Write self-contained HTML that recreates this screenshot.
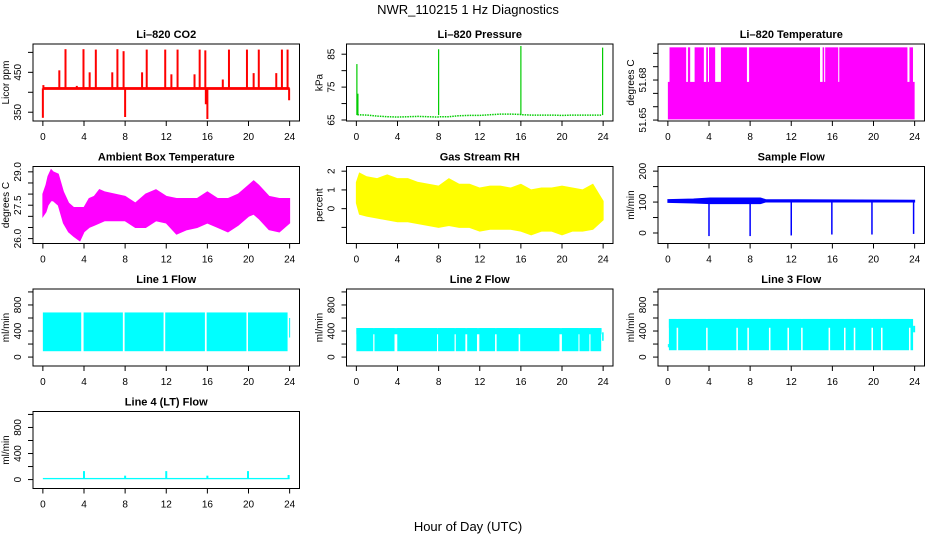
<!DOCTYPE html>
<html><head><meta charset="utf-8"><style>
html,body{margin:0;padding:0;background:#fff;}
svg{display:block;font-family:"Liberation Sans",Arial,sans-serif;}
</style></head><body>
<svg id="c" width="936" height="540" viewBox="0 0 936 540" xmlns="http://www.w3.org/2000/svg">
<rect width="936" height="540" fill="#fff"/>
<text x="468" y="14" font-size="13" text-anchor="middle">NWR_110215  1 Hz Diagnostics</text>
<text x="468" y="531" font-size="13" text-anchor="middle">Hour of Day (UTC)</text>
</svg>
<script>
// ---------- data ----------
var xTicks = [0,4,8,12,16,20,24];
// CO2
var co2BandLo = 406, co2BandHi = 413;
var co2SpikeHours = [0.0,0.05,1.6,2.2,3.3,3.95,4.55,5.15,6.75,7.25,7.85,8.0,9.65,10.1,11.9,12.5,13.1,14.75,15.25,15.8,15.85,16.0,17.5,18.1,19.85,20.5,21.0,22.7,23.25,23.8,23.95];
var co2SpikeVals  = [336,418,455,508,416,508,450,507,450,508,503,338,450,507,507,445,507,445,507,505,370,333,432,507,507,448,507,448,507,507,380];
// Pressure
var presHours = [0.1,1,2,3,4,5,6,7,7.9,8.1,9,10,11,12,13,14,15,15.9,16.1,17,18,19,20,21,22,23,23.9];
var presVals  = [66.6,66.5,66.2,66.0,65.9,66.0,66.1,66.0,65.9,66.0,66.0,66.3,66.4,66.4,66.6,66.8,66.8,66.7,66.6,66.5,66.5,66.5,66.4,66.5,66.5,66.5,66.5];
var presSpikeHours = [0.05,0.15,8.0,16.0,23.95];
var presSpikeVals  = [82,73,86.5,87.5,87];
// Li-820 temperature
var tempLevelLow = 51.6505, tempLevelMid = 51.6786, tempLevelHigh = 51.7045;
var tempUpperStart = [0.16,1.95,2.6,3.73,4.0,5.16,7.9,15.05,15.3,16.67,23.5];
var tempUpperEnd   = [1.78,2.17,3.5,3.9,4.6,7.69,14.8,15.2,16.57,23.3,23.84];
// Ambient box temperature
var ambHours = [0,0.3,0.5,0.8,1,1.5,2,2.5,3,3.6,4,4.5,5,5.5,6,7,8,9,10,11,12,13,14,15,16,17,18,19,20,20.5,21,22,23,24];
var ambHi = [28.0,28.4,28.8,29.1,29.0,28.9,28.1,27.6,27.4,27.4,27.4,27.8,27.9,28.2,28.1,28.0,27.9,27.6,28.0,28.2,27.9,27.8,27.8,27.8,28.1,27.8,27.8,28.0,28.4,28.6,28.4,27.9,27.8,27.8];
var ambLo = [27.0,27.2,27.5,27.7,27.7,27.5,26.7,26.3,26.1,25.9,26.3,26.5,26.6,26.7,26.8,26.8,26.8,26.5,26.5,26.8,26.7,26.2,26.4,26.5,26.7,26.5,26.3,26.6,27.0,27.1,26.9,26.4,26.3,26.7];
// Gas stream RH
var rhHours = [0,0.3,1,2,3,4,5,6,7,8,9,10,11,12,13,14,15,16,17,18,19,20,21,22,23,24];
var rhHi = [1.4,1.9,1.7,1.6,1.8,1.6,1.6,1.4,1.3,1.2,1.6,1.3,1.3,1.1,1.2,1.2,1.1,1.3,1.0,1.1,1.1,1.2,1.1,1.0,1.3,0.4];
var rhLo = [0.3,-0.3,-0.4,-0.5,-0.6,-0.7,-0.7,-0.8,-0.9,-1.0,-0.9,-1.0,-1.0,-1.2,-1.1,-1.1,-1.1,-1.2,-1.4,-1.2,-1.2,-1.4,-1.2,-1.2,-1.1,-0.6];
// Sample flow
var sfHours = [0,2.5,4.1,9,9.5,24];
var sfHi = [108,110,113,113,108,106];
var sfLo = [99,97,95,95,100,100];
var sfDipHours = [4.0,8.0,12.0,15.95,19.85,23.9];
var sfDipVals  = [-10,-10,-8,-5,-5,-3];
// Line 1 flow
var l1Start = [0,3.96,7.95,11.9,15.93,19.95];
var l1End   = [3.73,7.78,11.74,15.76,19.8,23.8];
var l1Lo = 90, l1Hi = 685;
// Line 2 flow
var l2Start = [0,1.76,3.98,7.95,9.67,10.78,11.96,13.64,15.93,19.99,21.7,22.77];
var l2End   = [1.64,3.71,7.84,9.55,10.6,11.73,13.49,15.78,19.75,21.6,22.66,23.81];
var l2Lo = 90, l2GapLo = 350, l2Hi = 445;
// Line 3 flow
var l3Start = [0.1,1.0,3.87,6.81,7.88,9.98,11.78,13.11,15.78,17.28,18.23,19.95,20.88];
var l3End   = [0.85,3.72,6.66,7.73,9.83,11.63,12.96,15.63,17.13,18.08,19.8,20.73,23.45];
var l3Lo = 105, l3GapLo = 450, l3Hi = 585;
// Line 4 flow
var l4Lo = 5, l4Hi = 25;
var l4SpikeHours = [4.0,8.0,12.0,16.0,19.95,23.9];
var l4SpikeVals  = [130,60,130,60,130,70];

// ---------- layout ----------
var NS = 'http://www.w3.org/2000/svg';
var svg = document.getElementById('c');
var colL = [33,346.5,658], W = 266.5;
var rowT = [44,166.5,289,411.5], H = 77;

function mk(tag, attrs, parent){
  var e = document.createElementNS(NS, tag);
  for (var k in attrs) e.setAttribute(k, attrs[k]);
  (parent||svg).appendChild(e);
  return e;
}

function makePanel(col,row,title,ylab,ymin,ymax,yticks,ylabels,name){
  var L = colL[col], T = rowT[row];
  var g = mk('g',{});
  
  
  var sx = function(h){ return L + (h+0.96)/25.92*W; };
  var sy = function(v){ return T + (ymax-v)/(ymax-ymin)*H; };
  var clip = mk('clipPath',{id:'clip-'+name},g);
  mk('rect',{x:L,y:T,width:W,height:H},clip);
  var plot = mk('g',{'clip-path':'url(#clip-'+name+')'},g);
  
  
  var box = mk('rect',{x:L,y:T,width:W,height:H,fill:'none',stroke:'#000','stroke-width':1},g);
  
  
  var t = mk('text',{x:L+W/2,y:T-6,'font-size':11,'font-weight':'bold','text-anchor':'middle'},g);
  t.textContent = title;
  
  
  var xa = mk('g',{},g);
  
  
  xTicks.forEach(function(h){
    mk('line',{x1:sx(h),x2:sx(h),y1:T+H,y2:T+H+5,stroke:'#000'},xa);
    var tl = mk('text',{x:sx(h),y:T+H+19,'font-size':10,'text-anchor':'middle'},xa);
    tl.textContent = String(h);
    
    
  });
  var ya = mk('g',{},g);
  
  
  yticks.forEach(function(v){
    mk('line',{x1:L-5,x2:L,y1:sy(v),y2:sy(v),stroke:'#000'},ya);
  });
  ylabels.forEach(function(v){
    var yy = sy(parseFloat(v)), xx = L-12;
    var tl = mk('text',{x:xx,y:yy,'font-size':10,'text-anchor':'middle',transform:'rotate(-90 '+xx+' '+yy+')'},ya);
    tl.textContent = v;
    
    
  });
  var yt = T+H/2, xt = L-24;
  var at = mk('text',{x:xt,y:yt,'font-size':10,'text-anchor':'middle',transform:'rotate(-90 '+xt+' '+yt+')'},g);
  at.textContent = ylab;
  
  
  return {g:plot,sx:sx,sy:sy};
}
function rect(p,h0,h1,v0,v1,color,nm){
  var r = mk('rect',{x:p.sx(h0),y:p.sy(v1),width:Math.max(0.8,p.sx(h1)-p.sx(h0)),height:Math.max(1,p.sy(v0)-p.sy(v1)),fill:color},p.g);
  
  
  return r;
}
function vline(p,h,v0,v1,color,w,nm){
  var l = mk('line',{x1:p.sx(h),x2:p.sx(h),y1:p.sy(v0),y2:p.sy(v1),stroke:color,'stroke-width':w},p.g);
  
  
}
function envelope(p,hours,hi,lo,color,nm){
  var pts = hours.map(function(h,i){return p.sx(h)+','+p.sy(hi[i]);});
  for (var i=hours.length-1;i>=0;i--) pts.push(p.sx(hours[i])+','+p.sy(lo[i]));
  var pg = mk('polygon',{points:pts.join(' '),fill:color,stroke:color,'stroke-width':1},p.g);
  
  
}

// CO2
var p = makePanel(0,0,'Li\u2013820 CO2','Licor ppm',328,521,[350,400,450,500],['350','450'],'co2');
rect(p,0,24,co2BandLo,co2BandHi,'#ff0000','co2-baseline');
co2SpikeHours.forEach(function(h,i){ vline(p,h,410,co2SpikeVals[i],'#ff0000',2,'co2-spike'); });

// Pressure
p = makePanel(1,0,'Li\u2013820 Pressure','kPa',64.7,88.1,[65,70,75,80,85],['65','75','85'],'pressure');
var pl = mk('polyline',{points:presHours.map(function(h,i){return p.sx(h)+','+p.sy(presVals[i]);}).join(' '),fill:'none',stroke:'#00cc00','stroke-width':1.5,'stroke-dasharray':'1.5 1'},p.g);


presSpikeHours.forEach(function(h,i){ vline(p,h,66.5,presSpikeVals[i],'#00cc00',1.2,'pressure-spike'); });

// Li-820 temperature
p = makePanel(2,0,'Li\u2013820 Temperature','degrees C',51.6493,51.707,[51.65,51.66,51.67,51.68,51.69,51.70],['51.65','51.68'],'li820-temp');
rect(p,0,24,tempLevelLow,tempLevelMid,'#ff00ff','temp-lower-band');
tempUpperStart.forEach(function(s,i){ rect(p,s,tempUpperEnd[i],tempLevelMid-0.0005,tempLevelHigh,'#ff00ff','temp-upper-band'); });

// Ambient
p = makePanel(0,1,'Ambient Box Temperature','degrees C',25.78,29.24,[26,26.5,27,27.5,28,28.5,29],['26.0','27.5','29.0'],'ambient-temp');
envelope(p,ambHours,ambHi,ambLo,'#ff00ff','ambient-temp-series');

// RH
p = makePanel(1,1,'Gas Stream RH','percent',-1.86,2.25,[-1,0,1,2],['\u22121','0','1','2'],'gas-rh');
envelope(p,rhHours,rhHi,rhLo,'#ffff00','rh-series');

// Sample flow
p = makePanel(2,1,'Sample Flow','ml/min',-34,215,[0,50,100,150,200],['0','100','200'],'sample-flow');
envelope(p,sfHours,sfHi,sfLo,'#0000ff','sample-flow-series');
sfDipHours.forEach(function(h,i){ vline(p,h,100,sfDipVals[i],'#0000ff',1.5,'sample-flow-dip'); });

// Line 1
p = makePanel(0,2,'Line 1 Flow','ml/min',-137,1045,[0,200,400,600,800,1000],['0','400','800'],'line1-flow');
l1Start.forEach(function(s,i){ rect(p,s,l1End[i],l1Lo,l1Hi,'#00ffff','line1-segment'); });
rect(p,23.95,24.05,300,600,'#00ffff','line1-segment');

// Line 2
p = makePanel(1,2,'Line 2 Flow','ml/min',-137,1045,[0,200,400,600,800,1000],['0','400','800'],'line2-flow');
rect(p,0,23.85,l2GapLo,l2Hi,'#00ffff','line2-upper-band');
l2Start.forEach(function(s,i){ rect(p,s,l2End[i],l2Lo,l2Hi,'#00ffff','line2-segment'); });
rect(p,23.9,24.05,250,380,'#00ffff','line2-segment');

// Line 3
p = makePanel(2,2,'Line 3 Flow','ml/min',-137,1045,[0,200,400,600,800,1000],['0','400','800'],'line3-flow');
rect(p,0.1,23.6,l3GapLo,l3Hi,'#00ffff','line3-upper-band');
l3Start.forEach(function(s,i){ rect(p,s,l3End[i],l3Lo,l3Hi,'#00ffff','line3-segment'); });
rect(p,23.6,23.85,l3Lo,l3Hi,'#00ffff','line3-segment');
rect(p,23.85,24.05,380,480,'#00ffff','line3-segment');
rect(p,0,0.1,150,200,'#00ffff','line3-segment');

// Line 4
p = makePanel(0,3,'Line 4 (LT) Flow','ml/min',-137,1045,[0,200,400,600,800,1000],['0','400','800'],'line4-flow');
rect(p,0,24,l4Lo,l4Hi,'#00ffff','line4-baseline');
l4SpikeHours.forEach(function(h,i){ vline(p,h,15,l4SpikeVals[i],'#00ffff',2,'line4-spike'); });
</script>
</body></html>
